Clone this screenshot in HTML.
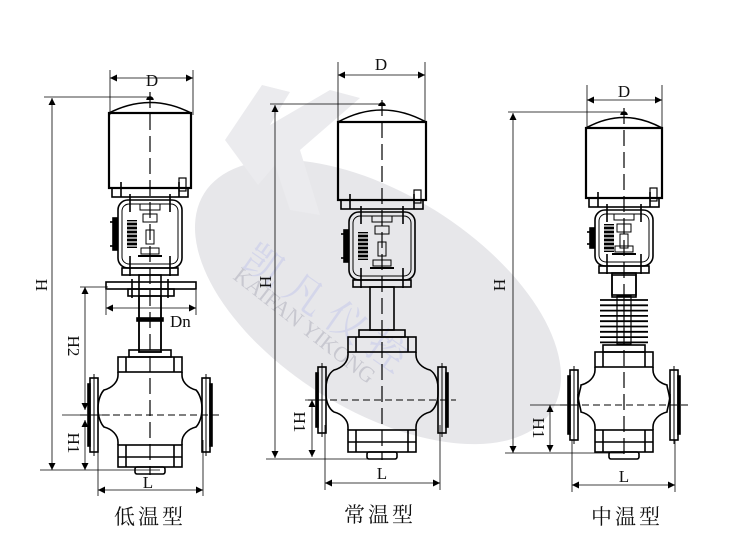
<!DOCTYPE html>
<html><head><meta charset="utf-8"><style>
html,body{margin:0;padding:0;background:#fff;width:750px;height:552px;overflow:hidden}
svg{display:block}
text{font-family:"Liberation Serif","Noto Serif CJK SC",serif;fill:#111}
</style></head><body>
<svg id="s" width="750" height="552" viewBox="0 0 750 552" xmlns="http://www.w3.org/2000/svg">
<defs>
<marker id="ar" viewBox="0 0 10 10" refX="10" refY="5" markerWidth="10" markerHeight="7" orient="auto-start-reverse" markerUnits="userSpaceOnUse"><path d="M0,0L10,5L0,10z" fill="#000"/></marker>
</defs>
<ellipse cx="378" cy="302" rx="205" ry="108" transform="rotate(32 378 302)" fill="#e7e7ea"/>
<path d="M225,140 L262,85 L290,92 L270,125 L330,90 L360,98 L300,150 L320,215 L290,210 L275,165 L258,185 Z" fill="#ebebee"/>
<text x="240" y="265" font-size="40" style="fill:#d4d6ea" transform="rotate(35 240 265)">凯 凡 仪 控</text>
<text x="232" y="278" font-size="22" style="fill:#c8c8d0" transform="rotate(38 232 278)">KAIFAN YIKONG</text>
<g id="g" fill="none" stroke="#000" stroke-width="1.6"></g>
<g stroke="#000" stroke-width="0.8" fill="none" id="dims"></g>
<g font-size="17">
<text x="152" y="86" text-anchor="middle">D</text>
<text x="381" y="70" text-anchor="middle">D</text>
<text x="624" y="97" text-anchor="middle">D</text>
<text x="170" y="327">Dn</text>
<text x="148" y="488" text-anchor="middle">L</text>
<text x="382" y="479" text-anchor="middle">L</text>
<text x="624" y="482" text-anchor="middle">L</text>
<text transform="translate(36 285) rotate(90)" text-anchor="middle">H</text>
<text transform="translate(260 282) rotate(90)" text-anchor="middle">H</text>
<text transform="translate(494 285) rotate(90)" text-anchor="middle">H</text>
<text transform="translate(68 346) rotate(90)" text-anchor="middle">H2</text>
<text transform="translate(68 443) rotate(90)" text-anchor="middle">H1</text>
<text transform="translate(294 422) rotate(90)" text-anchor="middle">H1</text>
<text transform="translate(533 428) rotate(90)" text-anchor="middle">H1</text>
</g>
<g font-size="21">
<text x="150" y="524" text-anchor="middle" letter-spacing="3">低温型</text>
<text x="380" y="522" text-anchor="middle" letter-spacing="3">常温型</text>
<text x="627" y="524" text-anchor="middle" letter-spacing="3">中温型</text>
</g>
</svg>
<script>
var NS="http://www.w3.org/2000/svg",G=document.getElementById('g'),Dm=document.getElementById('dims');
function el(p,t,a){var e=document.createElementNS(NS,t);for(var k in a)e.setAttribute(k,a[k]);p.appendChild(e);return e;}
function R(x,y,w,h,o){var a={x:x,y:y,width:w,height:h};for(var k in o)a[k]=o[k];return el(G,'rect',a);}
function L(x1,y1,x2,y2,o,p){var a={x1:x1,y1:y1,x2:x2,y2:y2};for(var k in o)a[k]=o[k];return el(p||G,'line',a);}
function P(d,o){var a={d:d};for(var k in o)a[k]=o[k];return el(G,'path',a);}
function dim(x1,y1,x2,y2){L(x1,y1,x2,y2,{'marker-start':'url(#ar)','marker-end':'url(#ar)'},Dm);}
function valve(c,v){
 var hw=v.aw;
 P('M'+(c-hw)+','+v.bt+' Q'+c+','+(v.dt-6)+' '+(c+hw)+','+v.bt);
 P('M'+(c-3)+','+(v.dt+2)+' a3,3 0 0 1 6,0',{fill:'#000'});
 R(c-hw,v.bt,2*hw,v.bb-v.bt,{'stroke-width':2.2});
 R(c-hw+3,v.bb,2*hw-6,9);
 L(c-hw+12,v.bb-6,c-hw+12,v.bb+9);L(c+hw-12,v.bb-6,c+hw-12,v.bb+9);
 R(c+hw-12,v.bb-10,7,13,{'stroke-width':1.2});
 var yw=v.yw;
 R(c-yw,v.yt,2*yw,v.yb-v.yt,{rx:10,'stroke-width':1.6});
 R(c-yw+4,v.yt+4,2*yw-8,v.yb-v.yt-8,{rx:7,'stroke-width':1});
 L(c-yw+12,v.yt-6,c-yw+12,v.yt+12);L(c+yw-12,v.yt-6,c+yw-12,v.yt+12);
 L(c-yw+12,v.yb-12,c-yw+12,v.yb+8);L(c+yw-12,v.yb-12,c+yw-12,v.yb+8);
 R(c-yw-5,v.yt+18,4,v.yb-v.yt-36,{fill:'#000'});
 L(c-yw-8,v.yt+22,c-yw,v.yt+22);L(c-yw-8,v.yb-22,c-yw,v.yb-22);
 var gy=v.yt+(v.yb-v.yt)/2-14;
 R(c-yw+9,gy,10,28,{fill:'#000',stroke:'none'});
 for(var i=0;i<7;i++)L(c-yw+9,gy+2+i*4,c-yw+19,gy+2+i*4,{stroke:'#fff','stroke-width':1.2});
 R(c-10,v.yt+4,20,6,{'stroke-width':1});R(c-7,v.yt+14,14,8,{'stroke-width':1});
 R(c-4,gy+10,8,14,{'stroke-width':1});R(c-9,v.yb-20,18,6,{'stroke-width':1});
 L(c-12,v.yb-12,c+12,v.yb-12,{'stroke-width':2});
 R(c-yw+4,v.yb,2*yw-8,7);
 R(c-v.sw,v.yb+7,2*v.sw,v.st-v.yb-7);
}
function side(c,s,v,top,bot){
 var b=c+s*v.b2, f=c+s*(v.fx-8);
 return 'M'+b+','+top+' L'+b+','+(top+3)+
  ' C'+b+','+(top+10)+' '+(b+s*6)+','+(top+16)+' '+(b+s*14)+','+(top+18)+
  ' C'+(f-s*3)+','+(top+21)+' '+f+','+(top+28)+' '+f+','+(top+36)+
  ' L'+f+','+(bot-36)+
  ' C'+f+','+(bot-28)+' '+(f-s*3)+','+(bot-21)+' '+(b+s*14)+','+(bot-18)+
  ' C'+(b+s*6)+','+(bot-16)+' '+b+','+(bot-10)+' '+b+','+(bot-3)+' L'+b+','+bot;
}
function body(c,v){
 var y=v.bt,cy=v.cy,fx=v.fx;
 R(c-v.b1,y,2*v.b1,7);
 R(c-v.b2,y+7,2*v.b2,15);
 L(c-v.b2+8,y+7,c-v.b2+8,y+22);L(c+v.b2-8,y+7,c+v.b2-8,y+22);
 var top=y+22,bot=v.bot;
 P(side(c,-1,v,top,bot));P(side(c,1,v,top,bot));
 [c-fx,c+fx-8].forEach(function(x){R(x,cy-v.fh,8,2*v.fh);L(x+4,cy-v.fh-4,x+4,cy+v.fh+4,{'stroke-width':1});R(x+(x<c?-2:8),cy-v.fh+6,2,2*v.fh-12,{fill:'#000'});});
 R(c-v.b2,bot,2*v.b2,22);L(c-v.b2+8,bot,c-v.b2+8,bot+22);L(c+v.b2-8,bot,c+v.b2-8,bot+22);L(c-v.b2,bot+12,c+v.b2,bot+12);
 R(c-15,bot+22,30,7,{rx:2});
 L(c-fx-10,cy,c+fx+10,cy,{'stroke-dasharray':'7,4','stroke-width':0.9});
 L(c,v.dt,c,bot+30,{'stroke-dasharray':'16,6','stroke-width':1.2});
}
var v1={aw:41,dt:98,bt:113,bb:188,yw:32,yt:200,yb:268,sw:11,st:352};
valve(150,v1);
R(106,282,90,7);R(128,289,46,7);L(132,279,132,298);L(168,279,168,298);
R(137,318,26,3,{fill:'#000'});
R(139,296,22,56);
body(150,{bt:350,b1:21,b2:32,cy:415,fx:60,fh:37,bot:445,dt:92});
var v2={aw:44,dt:104,bt:122,bb:200,yw:33,yt:212,yb:280,sw:12,st:330};
valve(382,v2);
body(382,{bt:330,b1:23,b2:34,cy:400,fx:64,fh:33,bot:430,dt:100});
var v3={aw:38,dt:113,bt:128,bb:198,yw:29,yt:210,yb:266,sw:12,st:295};
valve(624,v3);
R(612,275,24,22);
for(var i=0;i<9;i++)L(600,300+i*5.3,648,300+i*5.3,{'stroke-width':1.8});
R(617,296,14,48,{'stroke-width':1.2});L(624,296,624,344,{'stroke-width':1});
body(624,{bt:345,b1:21,b2:29,cy:405,fx:54,fh:35,bot:430,dt:108});
dim(110,78,193,78);L(110,70,110,115,{},Dm);L(193,70,193,115,{},Dm);
dim(52,98,52,470);L(44,97,150,97,{},Dm);L(40,470,160,470,{},Dm);
dim(106,308,196,308);L(106,290,106,315,{},Dm);L(196,290,196,315,{},Dm);
dim(85,287,85,410);L(80,287,108,287,{},Dm);dim(85,420,85,470);L(62,415,110,415,{},Dm);
dim(98,490,203,490);L(98,440,98,496,{},Dm);L(203,440,203,496,{},Dm);
dim(338,75,425,75);L(338,62,338,122,{},Dm);L(425,62,425,122,{},Dm);
dim(275,105,275,458);L(270,104,382,104,{},Dm);L(266,459,392,459,{},Dm);
dim(312,400,312,457);L(305,400,325,400,{},Dm);
dim(325,483,440,483);L(325,425,325,490,{},Dm);L(440,425,440,490,{},Dm);
dim(587,100,662,100);L(587,85,587,128,{},Dm);L(662,85,662,128,{},Dm);
dim(513,113,513,453);L(508,112,624,112,{},Dm);L(505,453,624,453,{},Dm);
dim(550,405,550,452);L(530,405,575,405,{},Dm);
dim(572,485,675,485);L(572,440,572,492,{},Dm);L(675,440,675,492,{},Dm);
</script>
</body></html>
